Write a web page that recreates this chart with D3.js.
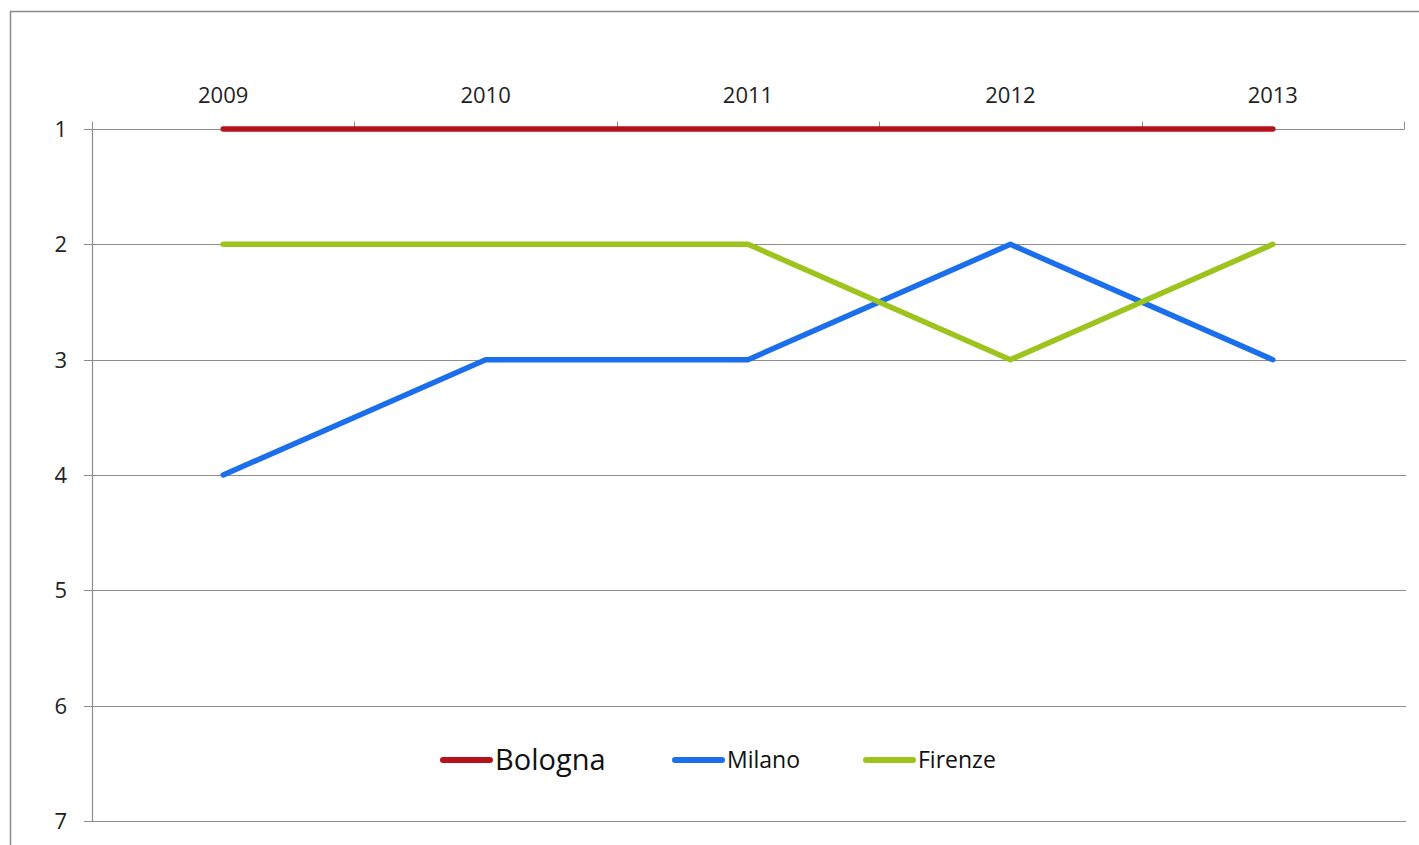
<!DOCTYPE html>
<html>
<head>
<meta charset="utf-8">
<script src="https://cdn.jsdelivr.net/npm/d3@7"></script>
<style>
  body { margin: 0; background: #fff; }
  text { font-family: "Open Sans", "Noto Sans", sans-serif; fill: #222; }
</style>
</head>
<body>
<div id="vis"></div>
<script>
// data
let years = ['2009', '2010', '2011', '2012', '2013'];
let bologna = [1, 1, 1, 1, 1];
let milano = [4, 3, 3, 2, 3];
let firenze = [2, 2, 2, 3, 2];
let rankTicks = [1, 2, 3, 4, 5, 6, 7];

let series = [
  {name: 'Bologna', values: bologna, color: '#B5121B'},
  {name: 'Milano', values: milano, color: '#1C6FEC'},
  {name: 'Firenze', values: firenze, color: '#9CC41C'}
];

let W = 1419, H = 845;
let margin = {top: 129, left: 92, right: 13, bottom: 24};
let width = W - margin.left - margin.right,
    height = H - margin.top - margin.bottom;

let svg = d3.select('#vis')
  .append('svg')
  .attr('width', W)
  .attr('height', H)
  .style('display', 'block');

// outer frame (cropped at right/bottom)
svg.append('rect')
  .attr('x', 10.5).attr('y', 11.5)
  .attr('width', W).attr('height', H)
  .attr('fill', 'none')
  .attr('stroke', '#8a8a8a')
  .attr('stroke-width', 1.5);

let g = svg.append('g')
  .attr('transform', `translate(${margin.left},${margin.top})`);

let xScale = d3.scaleBand().domain(years).range([0, width - 2]);
let yScale = d3.scaleLinear().domain([1, 7]).range([0, height]);

// gridlines
g.selectAll('.grid')
  .data(rankTicks.slice(1))
  .enter().append('line')
  .attr('class', 'grid')
  .attr('x1', 0).attr('x2', width)
  .attr('y1', d => Math.round(yScale(d)) + 0.5)
  .attr('y2', d => Math.round(yScale(d)) + 0.5)
  .attr('stroke', '#8c8c8c')
  .attr('stroke-width', 1.2);

// top x axis
let xAxis = g.append('g').attr('class', 'x axis').attr('transform', 'translate(0,0.5)');
xAxis.append('line')
  .attr('x1', 0).attr('x2', xScale.range()[1])
  .attr('stroke', '#8c8c8c').attr('stroke-width', 1.2);
xAxis.selectAll('.xtick')
  .data(d3.range(years.length + 1))
  .enter().append('line')
  .attr('x1', i => Math.round(i * xScale.step()) + 0.5)
  .attr('x2', i => Math.round(i * xScale.step()) + 0.5)
  .attr('y1', -8).attr('y2', 0)
  .attr('stroke', '#8c8c8c').attr('stroke-width', 1);
xAxis.selectAll('.xlabel')
  .data(years)
  .enter().append('text')
  .attr('x', d => xScale(d) + xScale.bandwidth() / 2)
  .attr('y', -27)
  .attr('text-anchor', 'middle')
  .style('font-size', '22px')
  .text(d => d);

// left y axis
let yAxis = g.append('g').attr('class', 'y axis');
yAxis.append('line')
  .attr('x1', 0.5).attr('x2', 0.5)
  .attr('y1', 0).attr('y2', height)
  .attr('stroke', '#8c8c8c').attr('stroke-width', 1.2);
yAxis.selectAll('.ytick')
  .data(rankTicks)
  .enter().append('line')
  .attr('x1', -8).attr('x2', 0)
  .attr('y1', d => Math.round(yScale(d)) + 0.5)
  .attr('y2', d => Math.round(yScale(d)) + 0.5)
  .attr('stroke', '#8c8c8c').attr('stroke-width', 1);
yAxis.selectAll('.ylabel')
  .data(rankTicks)
  .enter().append('text')
  .attr('x', -25)
  .attr('y', d => yScale(d))
  .attr('dy', '0.36em')
  .attr('text-anchor', 'end')
  .style('font-size', '22px')
  .text(d => d);

// lines
let line = d3.line()
  .x((d, i) => xScale(years[i]) + xScale.bandwidth() / 2)
  .y(d => yScale(d));

g.selectAll('.series')
  .data(series)
  .enter().append('path')
  .attr('class', 'series')
  .attr('d', d => line(d.values))
  .attr('fill', 'none')
  .attr('stroke', d => d.color)
  .attr('stroke-width', 5.5)
  .attr('stroke-linejoin', 'round')
  .attr('stroke-linecap', 'round');

// legend
let legendItems = [
  {x: 443, size: 29},
  {x: 675, size: 23},
  {x: 866, size: 23}
];
let legY = 760;
series.forEach((s, i) => {
  let it = legendItems[i];
  svg.append('line')
    .attr('x1', it.x).attr('x2', it.x + 47)
    .attr('y1', legY).attr('y2', legY)
    .attr('stroke', s.color)
    .attr('stroke-width', 6)
    .attr('stroke-linecap', 'round');
  svg.append('text')
    .attr('x', it.x + 52)
    .attr('y', legY)
    .attr('dy', '0.35em')
    .style('font-size', it.size + 'px')
    .style('fill', '#111')
    .text(s.name);
});
</script>
</body>
</html>
